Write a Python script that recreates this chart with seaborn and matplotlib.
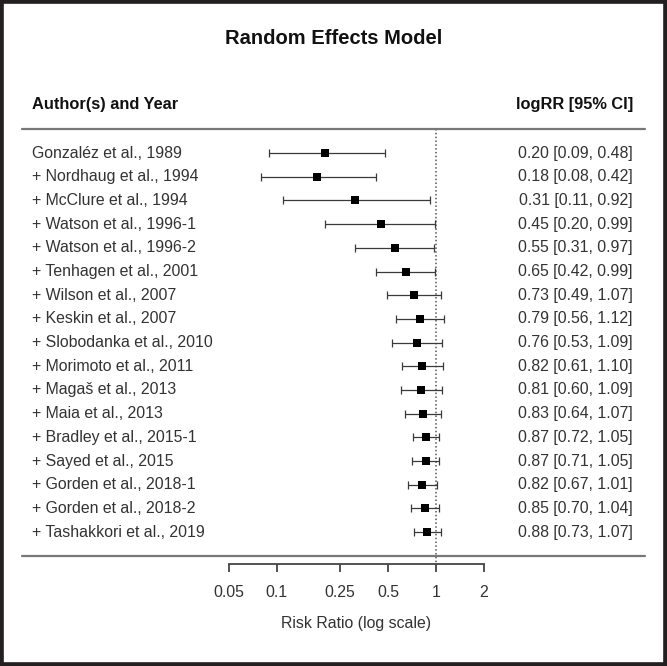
import numpy as np
import pandas as pd
import matplotlib
matplotlib.use('Agg')
import matplotlib.pyplot as plt
import seaborn as sns
from matplotlib.patches import Rectangle

# cumulative meta-analysis (risk ratios)
studies = ['Gonzaléz et al., 1989', '+ Nordhaug et al., 1994', '+ McClure et al., 1994',
           '+ Watson et al., 1996-1', '+ Watson et al., 1996-2', '+ Tenhagen et al., 2001',
           '+ Wilson et al., 2007', '+ Keskin et al., 2007', '+ Slobodanka et al., 2010',
           '+ Morimoto et al., 2011', '+ Magaš et al., 2013', '+ Maia et al., 2013',
           '+ Bradley et al., 2015-1', '+ Sayed et al., 2015', '+ Gorden et al., 2018-1',
           '+ Gorden et al., 2018-2', '+ Tashakkori et al., 2019']
rr = [0.20, 0.18, 0.31, 0.45, 0.55, 0.65, 0.73, 0.79, 0.76, 0.82, 0.81, 0.83, 0.87, 0.87, 0.82, 0.85, 0.88]
ci_lo = [0.09, 0.08, 0.11, 0.20, 0.31, 0.42, 0.49, 0.56, 0.53, 0.61, 0.60, 0.64, 0.72, 0.71, 0.67, 0.70, 0.73]
ci_hi = [0.48, 0.42, 0.92, 0.99, 0.97, 0.99, 1.07, 1.12, 1.09, 1.10, 1.09, 1.07, 1.05, 1.05, 1.01, 1.04, 1.07]
xticks = [0.05, 0.1, 0.25, 0.5, 1, 2]
xtick_labels = ['0.05', '0.1', '0.25', '0.5', '1', '2']

df = pd.DataFrame({'study': studies, 'rr': rr, 'lo': ci_lo, 'hi': ci_hi})
df['row'] = np.arange(len(df))
n = len(df)

sns.set_style('white')
plt.rcParams['font.family'] = ['Liberation Sans', 'DejaVu Sans']
txt_col = '#333333'
fs = 11.4

fig = plt.figure(figsize=(6.67, 6.66), dpi=100)
ax = fig.add_axes([0, 0, 1, 1])
ax.set_xscale('log', base=2)
ax.set_xlim(2 ** (-436 / 48), 2 ** (231 / 48))
ax.set_ylim(21.65, -6.46)

# CIs and point estimates
ax.errorbar(df['rr'], df['row'], xerr=[df['rr'] - df['lo'], df['hi'] - df['rr']],
            fmt='none', ecolor='#3a3a3a', elinewidth=0.9, capsize=3.2, capthick=0.9, zorder=2)
sns.scatterplot(data=df, x='rr', y='row', marker='s', s=38, color='black',
                edgecolor='black', linewidth=0, ax=ax, zorder=3, legend=False)

# reference line at RR = 1
ax.vlines(1, -1, 17.35, colors='#555555', linestyles=(0, (1, 1.5)), linewidth=1.1, zorder=1)

# horizontal rules
trans = ax.get_yaxis_transform()
ax.plot([0.033, 0.967], [-1, -1], color='#777777', lw=1.6, transform=trans, clip_on=False)
ax.plot([0.033, 0.967], [n, n], color='#777777', lw=1.6, transform=trans, clip_on=False)

# text columns
for _, r in df.iterrows():
    ax.text(0.048, r['row'], r['study'], transform=trans, ha='left', va='center',
            fontsize=fs, color=txt_col)
    ax.text(0.949, r['row'], f"{r['rr']:.2f} [{r['lo']:.2f}, {r['hi']:.2f}]", transform=trans,
            ha='right', va='center', fontsize=fs, color=txt_col)

ax.text(0.048, -2.03, 'Author(s) and Year', transform=trans, ha='left', va='center',
        fontsize=11.8, fontweight='bold', color='#111111')
ax.text(0.949, -2.03, 'logRR [95% CI]', transform=trans, ha='right', va='center',
        fontsize=11.8, fontweight='bold', color='#111111')
ax.text(0.5, -4.85, 'Random Effects Model', transform=trans, ha='center', va='center',
        fontsize=14.5, fontweight='bold', color='#111111')

# x axis
for s in ['top', 'right', 'left']:
    ax.spines[s].set_visible(False)
ax.spines['bottom'].set_visible(True)
ax.spines['bottom'].set_position(('data', 17.35))
ax.spines['bottom'].set_bounds(xticks[0], xticks[-1])
ax.spines['bottom'].set_color('#444444')
ax.spines['bottom'].set_linewidth(1.3)
ax.set_xticks(xticks)
ax.set_xticklabels(xtick_labels)
ax.xaxis.set_minor_locator(matplotlib.ticker.NullLocator())
ax.tick_params(axis='x', which='major', direction='out', length=6, width=1.3, color='#444444',
               pad=9, labelsize=fs, labelcolor=txt_col, bottom=True)
ax.set_yticks([])
ax.set_xlabel('')
ax.set_ylabel('')
xmid = np.sqrt(xticks[0] * xticks[-1])
ax.text(xmid, 19.84, 'Risk Ratio (log scale)', ha='center', va='center', fontsize=fs, color=txt_col)

# outer frame
fig.patches.append(Rectangle((0, 0), 1, 1, transform=fig.transFigure, fill=False,
                             edgecolor='#231f20', linewidth=5.5))

fig.savefig('out.png', dpi=100)
